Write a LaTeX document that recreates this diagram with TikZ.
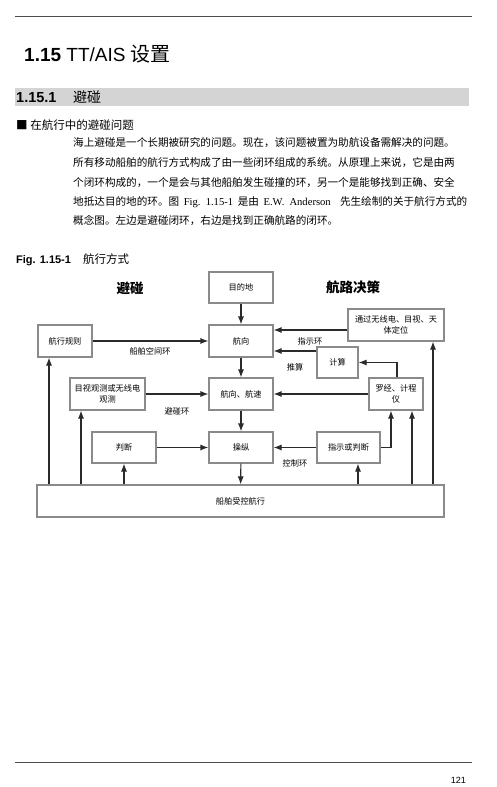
\documentclass[tikz,border=0pt]{standalone}
\usepackage{fontspec}
\setmainfont{Liberation Serif}
\newfontfamily\cjk{Noto Sans CJK SC}
\newfontfamily\arial{Liberation Sans}
\usetikzlibrary{arrows.meta,calc}
\XeTeXlinebreaklocale "zh"
\XeTeXlinebreakskip=0pt plus 1fil
\definecolor{boxgray}{HTML}{8A8A8A}
\definecolor{arrgray}{HTML}{2A2A2A}
\definecolor{bargray}{HTML}{D4D4D4}
\begin{document}
\begin{tikzpicture}[x=1pt,y=-1pt,
 box/.style={draw=boxgray, line width=1.1pt, fill=white, inner sep=1pt, align=center, font=\cjk\fontsize{8.2}{11}\selectfont},
 arr/.style={draw=arrgray, line width=1.1pt, -{Latex[length=8pt,width=6pt]}},
 lab/.style={inner sep=0pt, font=\cjk\fontsize{8.2}{9}\selectfont},
 ttl/.style={inner sep=0pt, font=\cjk\bfseries\fontsize{13.5}{15}\selectfont},
 para/.style={anchor=base west, inner sep=0pt, font=\cjk\fontsize{10.6}{12}\selectfont},
 hrule/.style={draw=black!70, line width=0.9pt}]
\useasboundingbox (0,0) rectangle (496,787);
% page rules
\coordinate (tl) at (15,16); \coordinate (tr) at (472,16);
\draw[hrule] (tl) -- (tr);
\coordinate (bl) at (15,762); \coordinate (br) at (472,762);
\draw[hrule] (bl) -- (br);
% title
\node[anchor=base west, inner sep=0pt] (title) at (24,61)
 {\arial\fontsize{19}{21}\selectfont\textbf{1.15} TT/AIS {\cjk\fontsize{20}{22}\selectfont 设置}};
% section bar
\fill[bargray] (15,88) rectangle (469,106);
\node[anchor=base west, inner sep=0pt] (secno) at (16,102.5)
 {\arial\bfseries\fontsize{14.5}{16}\selectfont 1.15.1};
\node[anchor=base west, inner sep=0pt] (secname) at (73,102.5)
 {\cjk\fontsize{14}{16}\selectfont 避碰};
% bullet
\node[para, font=\cjk\fontsize{11.5}{13}\selectfont] (bullet) at (16,129) {■ 在航行中的避碰问题};
% paragraph
\node[para] (p1) at (73,146) {\makebox[394pt][s]{海上避碰是一个长期被研究的问题。现在，该问题被置为助航设备需解决的问题。}};
\node[para] (p2) at (73,166) {\makebox[394pt][s]{所有移动船舶的航行方式构成了由一些闭环组成的系统。从原理上来说，它是由两}};
\node[para] (p3) at (73,186) {\makebox[394pt][s]{个闭环构成的，一个是会与其他船舶发生碰撞的环，另一个是能够找到正确、安全}};
\node[para] (p4) at (73,205.5) {\makebox[394pt][s]{地抵达目的地的环。图 {\rmfamily Fig.~1.15-1} 是由 {\rmfamily E.W.~Anderson}~ 先生绘制的关于航行方式的}};
\node[para] (p5) at (73,224.5) {概念图。左边是避碰闭环，右边是找到正确航路的闭环。};
% figure caption
\node[anchor=base west, inner sep=0pt] (figno) at (16,263)
 {\arial\bfseries\fontsize{11}{12}\selectfont Fig. 1.15-1};
\node[anchor=base west, inner sep=0pt] (figname) at (83,263)
 {\cjk\fontsize{11.5}{13}\selectfont 航行方式};
% titles
\node[ttl] (tleft) at (130,288) {避碰};
\node[ttl] (tright) at (353,287) {航路决策};
% boxes
\node[box, minimum width=64pt, minimum height=31pt] (dest) at (241,287.5) {目的地};
\node[box, minimum width=64pt, minimum height=32pt] (course) at (241,341) {航向};
\node[box, minimum width=64pt, minimum height=32pt] (cs) at (241,394) {航向、航速};
\node[box, minimum width=64pt, minimum height=31pt] (manv) at (241,447.5) {操纵};
\node[box, minimum width=54pt, minimum height=32pt] (rules) at (65,341) {航行规则};
\node[box, minimum width=75pt, minimum height=32pt] (obs) at (107.5,394) {目视观测或无线电\\观测};
\node[box, minimum width=64pt, minimum height=31pt] (judge) at (124,447.5) {判断};
\node[box, minimum width=407pt, minimum height=32pt] (ship) at (240.5,501) {船舶受控航行};
\node[box, minimum width=96pt, minimum height=32pt] (fix) at (396,325) {通过无线电、目视、天\\体定位};
\node[box, minimum width=41pt, minimum height=31pt] (calc) at (337.5,362.5) {计算};
\node[box, minimum width=54pt, minimum height=32pt] (comp) at (396,394) {罗经、计程\\仪};
\node[box, minimum width=63pt, minimum height=31pt] (indj) at (348.5,447.5) {指示或判断};
% loop labels
\node[lab] (l1) at (150,351) {船舶空间环};
\node[lab] (l2) at (177,411) {避碰环};
\node[lab] (l3) at (310,341) {指示环};
\node[lab] (l4) at (295,367) {推算};
\node[lab] (l5) at (295,463) {控制环};
% central chain
\draw[arr] (dest) -- (course);
\draw[arr] (course) -- (cs);
\draw[arr] (cs) -- (manv);
\draw[arr] (manv) -- (ship);
% left loops
\draw[arr] (rules) -- (course);
\draw[arr] (obs) -- (cs);
\draw[arr] (judge) -- (manv);
\coordinate (r1) at ([xshift=-16pt]rules.south);
\draw[arr] (r1 |- ship.north) -- (r1);
\coordinate (o1) at ([xshift=-26.5pt]obs.south);
\draw[arr] (o1 |- ship.north) -- (o1);
\draw[arr] (judge.south |- ship.north) -- (judge.south);
% right loops
\coordinate (f1) at ([yshift=-5pt]fix.west);
\draw[arr] (f1) -- (f1 -| course.east);
\coordinate (c1) at ([yshift=11.5pt]calc.west);
\draw[arr] (c1) -- (c1 -| course.east);
\coordinate (k1) at ([xshift=1pt]comp.north);
\draw[arr] (k1) |- (calc.east);
\draw[arr] (comp) -- (cs);
\draw[arr] (indj) -- (manv);
\coordinate (i1) at ([xshift=9.5pt]indj.south);
\draw[arr] (i1 |- ship.north) -- (i1);
\coordinate (k2) at ([xshift=-5pt]comp.south);
\draw[arr] (indj.east) -| (k2);
\coordinate (k3) at ([xshift=16pt]comp.south);
\draw[arr] (k3 |- ship.north) -- (k3);
\coordinate (f2) at ([xshift=37pt]fix.south);
\draw[arr] (f2 |- ship.north) -- (f2);
% page number
\node[anchor=base east, inner sep=0pt] (pg) at (466,783)
 {\arial\fontsize{9}{11}\selectfont 121};
\end{tikzpicture}
\end{document}
